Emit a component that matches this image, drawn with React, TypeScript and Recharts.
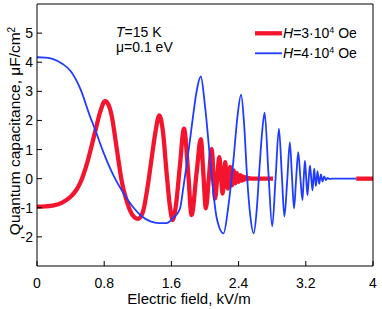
import { LineChart, Line, XAxis, YAxis } from 'recharts'

const FONT = '"Liberation Sans", Arial, sans-serif'
const RED = '#f5142d'
const BLUE = '#1f3cff'

// H = 3e4 Oe
const redField = [
  0, 0.1, 0.2, 0.3, 0.4, 0.47, 0.52, 0.6, 0.69, 0.75, 0.81, 0.85, 0.89, 0.95, 1.01, 1.07, 1.13, 1.2,
  1.26, 1.31, 1.36, 1.41, 1.456, 1.5, 1.54, 1.58, 1.615, 1.65, 1.7, 1.75, 1.8, 1.84, 1.9, 1.95, 1.98,
  2.01, 2.045, 2.08, 2.1, 2.12, 2.145, 2.17, 2.19, 2.21, 2.225, 2.24, 2.255, 2.27, 2.285, 2.3, 2.31,
  2.32, 2.33, 2.34, 2.35, 2.36, 2.37, 2.38, 2.39, 2.4, 2.41, 2.42, 2.435, 2.45, 2.465, 2.48, 2.5, 2.52,
  2.55, 2.81,
]
const redCap = [
  -0.96, -0.95, -0.92, -0.82, -0.62, -0.38, -0.11, 0.57, 1.59, 2.27, 2.66, 2.55, 2.15, 1.02, -0.11,
  -0.79, -1.22, -1.38, -1.15, -0.4, 0.6, 1.6, 2.17, 1.6, 0.3, -0.9, -1.42, -1.0, 0.4, 1.72, 0.2, -1.25,
  0.2, 1.36, 0.2, -1.02, 0.0, 1.02, 0.2, -0.68, 0.0, 0.74, 0.1, -0.51, 0.0, 0.57, 0.1, -0.34, 0.0, 0.4,
  0.08, -0.23, 0.0, 0.28, 0.0, -0.16, 0.0, 0.19, 0.0, -0.11, 0.0, 0.12, -0.07, 0.08, -0.04, 0.05, -0.02,
  0.02, 0, 0,
]
const redTailField = [3.8, 4]
const redTailCap = [0, 0]

// H = 4e4 Oe
const blueField = [
  0, 0.1, 0.2, 0.3, 0.4, 0.52, 0.63, 0.69, 0.79, 0.91, 1.03, 1.15, 1.25, 1.35, 1.45, 1.54, 1.62, 1.7,
  1.74, 1.78, 1.82, 1.86, 1.9, 1.95, 2.0, 2.06, 2.1, 2.14, 2.22, 2.28, 2.34, 2.385, 2.43, 2.465, 2.5,
  2.54, 2.58, 2.615, 2.645, 2.68, 2.71, 2.755, 2.8, 2.84, 2.88, 2.915, 2.945, 2.98, 3.01, 3.035, 3.06,
  3.085, 3.11, 3.135, 3.16, 3.175, 3.19, 3.205, 3.22, 3.235, 3.25, 3.265, 3.28, 3.29, 3.3, 3.31, 3.32,
  3.33, 3.34, 3.35, 3.36, 3.37, 3.38, 3.39, 3.4, 3.41, 3.42, 3.44, 3.46, 3.48, 3.51, 3.8,
]
const blueCap = [
  4.17, 4.16, 4.1, 3.95, 3.7, 3.06, 2.15, 1.7, 0.91, 0.11, -0.5, -1.0, -1.3, -1.47, -1.53, -1.53, -1.35,
  -1.05, -0.35, 0.45, 1.3, 2.2, 3.0, 3.51, 2.5, 0.68, -0.5, -1.36, -1.88, -0.9, 0.68, 2.1, 2.89, 1.9,
  0.11, -1.3, -1.88, -1.1, 0.2, 1.6, 2.27, 0.2, -1.64, 0.0, 1.72, 0.1, -1.3, 0.0, 1.25, 0.1, -1.02, 0,
  0.91, 0.05, -0.74, 0, 0.62, 0, -0.57, 0, 0.45, 0, -0.4, 0, 0.34, 0, -0.25, 0, 0.25, 0, -0.17, 0, 0.15,
  0, -0.1, 0, 0.08, -0.05, 0.03, -0.01, 0, 0,
]

const xTicks = [0, 0.8, 1.6, 2.4, 3.2, 4]
const yTicks = [-2, -1, 0, 1, 2, 3, 4, 5]

const zip = (xs: number[], ys: number[]) => xs.map((x, i) => ({ x, y: ys[i] }))

const redData = zip(redField, redCap)
const redTail = zip(redTailField, redTailCap)
const blueData = zip(blueField, blueCap)

const tickStyle = { fontSize: 14, fill: '#000', fontFamily: FONT }

export default function App() {
  return (
    <div style={{ position: 'absolute', left: 0, top: 0, width: 382, height: 309, background: '#fff' }}>
      <LineChart width={382} height={309} margin={{ top: 3, right: 8, bottom: 0, left: 0 }}>
        <XAxis
          type="number"
          dataKey="x"
          domain={[0, 4]}
          ticks={xTicks}
          allowDataOverflow
          height={43}
          stroke="#000"
          tickSize={-5}
          tickMargin={17}
          tick={tickStyle}
        />
        <XAxis
          xAxisId="top"
          orientation="top"
          type="number"
          dataKey="x"
          domain={[0, 4]}
          ticks={xTicks}
          allowDataOverflow
          height={1}
          stroke="#000"
          tickSize={-5}
          tick={false}
        />
        <YAxis
          type="number"
          domain={[-3, 6]}
          ticks={yTicks}
          allowDataOverflow
          width={37}
          stroke="#000"
          tickSize={-5}
          tickMargin={9}
          tick={tickStyle}
        />
        <YAxis
          yAxisId="right"
          orientation="right"
          type="number"
          domain={[-3, 6]}
          ticks={yTicks}
          allowDataOverflow
          width={1}
          stroke="#000"
          tickSize={-5}
          tick={false}
        />
        <Line
          data={redData}
          dataKey="y"
          type="monotone"
          stroke={RED}
          strokeWidth={4.3}
          dot={false}
          isAnimationActive={false}
        />
        <Line
          data={redTail}
          dataKey="y"
          type="monotone"
          stroke={RED}
          strokeWidth={4.3}
          dot={false}
          isAnimationActive={false}
        />
        <Line
          data={blueData}
          dataKey="y"
          type="monotone"
          stroke={BLUE}
          strokeWidth={1.8}
          dot={false}
          isAnimationActive={false}
        />
      </LineChart>
      <svg
        width={382}
        height={309}
        style={{ position: 'absolute', left: 0, top: 0, pointerEvents: 'none' }}
        fontFamily={FONT}
      >
        <text x={116} y={37} fontSize={14}>
          <tspan fontStyle="italic">T</tspan>=15 K
        </text>
        <text x={116} y={52} fontSize={14}>μ=0.1 eV</text>

        <line x1={255} x2={282} y1={33.3} y2={33.3} stroke={RED} strokeWidth={4.3} />
        <text x={283} y={38} fontSize={14}>
          <tspan fontStyle="italic">H</tspan>=3·10<tspan dy={-5} fontSize={9}>4</tspan>
          <tspan dy={5}> Oe</tspan>
        </text>
        <line x1={255} x2={282} y1={53.3} y2={53.3} stroke={BLUE} strokeWidth={1.8} />
        <text x={283} y={58} fontSize={14}>
          <tspan fontStyle="italic">H</tspan>=4·10<tspan dy={-5} fontSize={9}>4</tspan>
          <tspan dy={5}> Oe</tspan>
        </text>

        <text transform="translate(20,131) rotate(-90)" textAnchor="middle" fontSize={15.5}>
          Quantum capacitance, μF/cm<tspan dy={-5} fontSize={10}>2</tspan>
        </text>
        <text x={189} y={304} textAnchor="middle" fontSize={15}>Electric field, kV/m</text>
      </svg>
    </div>
  )
}
